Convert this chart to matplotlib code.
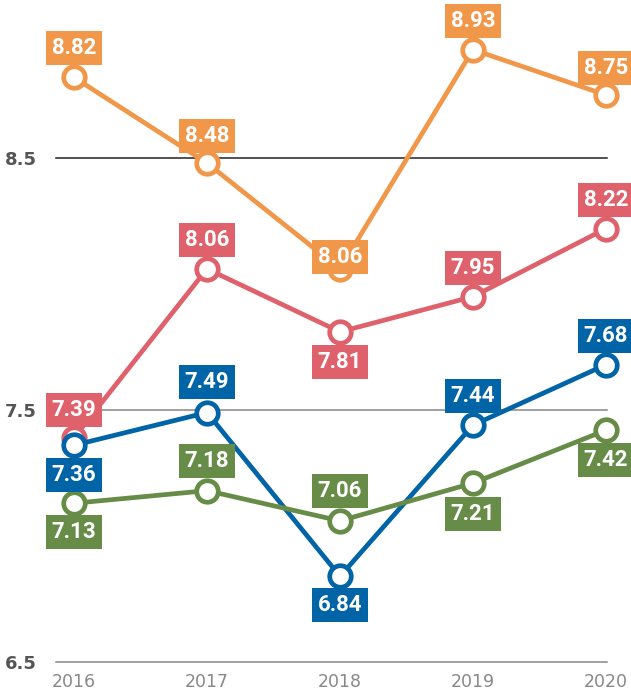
import matplotlib
matplotlib.use("Agg")
from matplotlib import pyplot as plt

years = [2016, 2017, 2018, 2019, 2020]
orange_vals = [8.82, 8.48, 8.06, 8.93, 8.75]
red_vals = [7.39, 8.06, 7.81, 7.95, 8.22]
blue_vals = [7.36, 7.49, 6.84, 7.44, 7.68]
green_vals = [7.13, 7.18, 7.06, 7.21, 7.42]
y_ticks = [6.5, 7.5, 8.5]

# label offset in pixels (+ above, - below)
orange_off = [29, 27, 12, 29, 27]
red_off = [28, 29, -30, 29, 29]
blue_off = [-30, 31, -29, 29, 29]
green_off = [-29, 30, 30, -31, -30]

series = [
    (orange_vals, orange_off, "#F0974A"),
    (red_vals, red_off, "#DF616B"),
    (blue_vals, blue_off, "#0064A7"),
    (green_vals, green_off, "#678C47"),
]

fig = plt.figure(figsize=(6.31, 6.93), dpi=100)
ax = fig.add_axes([56 / 631, 31 / 693, 551 / 631, 662 / 693])
ax.set_xlim(2016 - 18 / 133, 2020 + 1 / 133)
ax.set_ylim(6.5, 6.5 + 662 / 252)

for y in y_ticks:
    c = "#222222" if y == 8.5 else "#888888"
    ax.axhline(y, color=c, lw=1.1, zorder=1, clip_on=False)

for i, (vals, offs, col) in enumerate(series):
    ax.plot(years, vals, color=col, lw=3.4, marker="o", ms=15.5,
            mfc="white", mec=col, mew=3.4, zorder=3 + i, clip_on=False)
    for x, v, o in zip(years, vals, offs):
        ax.annotate(f"{v:.2f}", (x, v), xytext=(0, o), textcoords="offset pixels",
                    ha="center", va="center", color="white", fontsize=16,
                    fontweight="bold", family="Roboto", zorder=10,
                    bbox=dict(boxstyle="square,pad=0.27", fc=col, ec="none"),
                    annotation_clip=False)

for s in ax.spines.values():
    s.set_visible(False)
ax.set_yticks(y_ticks)
ax.set_yticklabels([str(t) for t in y_ticks], fontsize=13, fontweight="bold", color="#555555")
ax.set_xticks(years)
ax.set_xticklabels([str(y) for y in years], fontsize=12.5, color="#888888")
ax.tick_params(axis="both", length=0)
ax.tick_params(axis="y", pad=14)
ax.tick_params(axis="x", pad=8)

plt.savefig("out.png", dpi=100)
